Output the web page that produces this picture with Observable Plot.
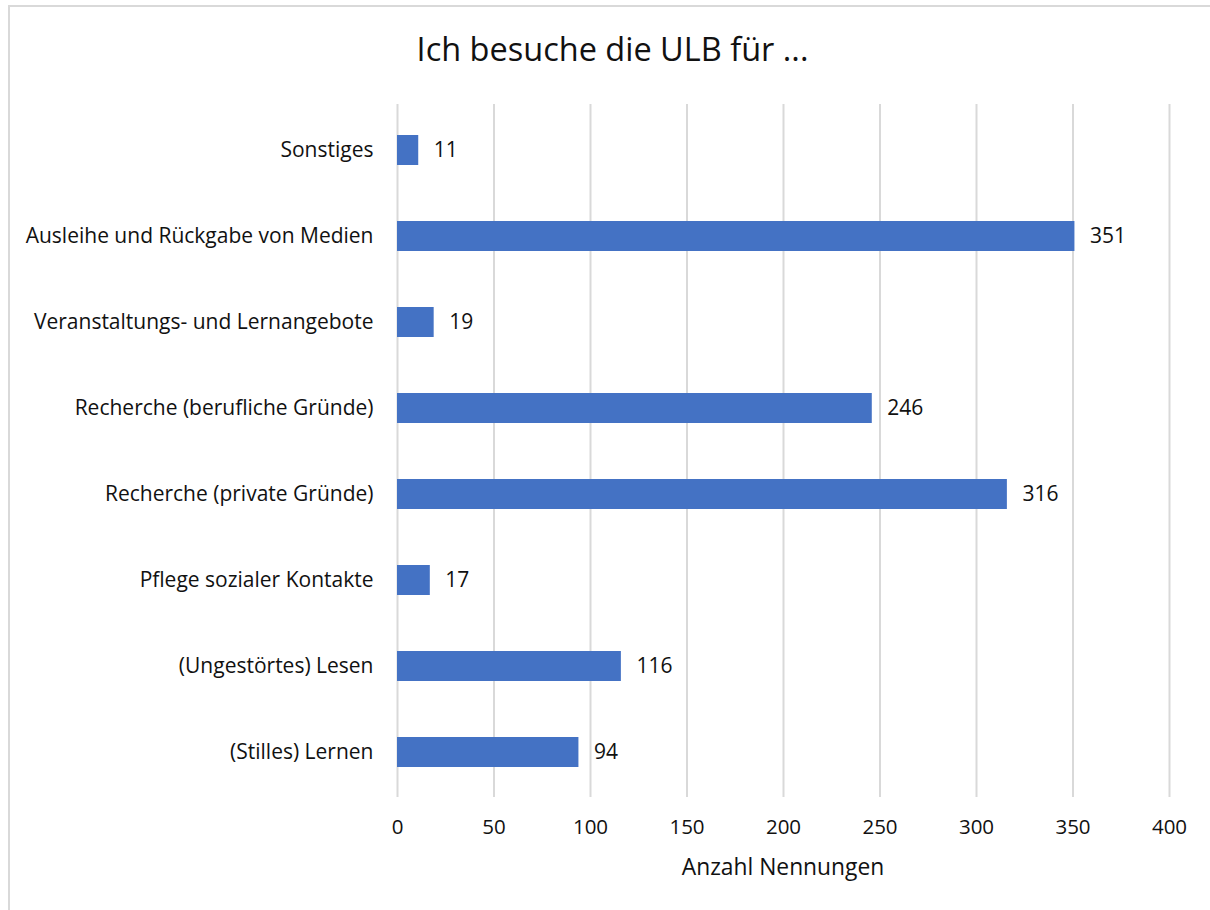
<!DOCTYPE html>
<html>
<head>
<meta charset="utf-8">
<script src="https://cdn.jsdelivr.net/npm/d3@7"></script>
<script src="https://cdn.jsdelivr.net/npm/@observablehq/plot@0.6"></script>
<style>
  html, body { margin: 0; padding: 0; background: #fff; }
  body { width: 1210px; height: 910px; position: relative; overflow: hidden; font-family: "Open Sans", Lato, sans-serif; }
  #frame { position: absolute; left: 8px; top: 5px; width: 1300px; height: 1000px; border-left: 2px solid #d9d9d9; border-top: 2px solid #d9d9d9; box-sizing: border-box; }
  #title { position: absolute; left: 0; width: 1225px; top: 28px; text-align: center; font-size: 32.5px; color: #111; line-height: 1.3; }
  #xlabel { position: absolute; left: 397px; width: 772px; top: 852px; text-align: center; font-size: 22.8px; color: #111; line-height: 1.3; }
  #chart { position: absolute; left: 0; top: 0; }
</style>
</head>
<body>
<div id="frame"></div>
<div id="chart"></div>
<div id="title">Ich besuche die ULB für ...</div>
<div id="xlabel">Anzahl Nennungen</div>
<script>
const categories = [
  "Sonstiges",
  "Ausleihe und Rückgabe von Medien",
  "Veranstaltungs- und Lernangebote",
  "Recherche (berufliche Gründe)",
  "Recherche (private Gründe)",
  "Pflege sozialer Kontakte",
  "(Ungestörtes) Lesen",
  "(Stilles) Lernen"
];
const values = [11, 351, 19, 246, 316, 17, 116, 94];
const xTicks = [0, 50, 100, 150, 200, 250, 300, 350, 400];

const data = categories.map((c, i) => ({category: c, value: values[i]}));

const chart = Plot.plot({
  width: 1210,
  height: 910,
  marginLeft: 397,
  marginRight: 41,
  marginTop: 104,
  marginBottom: 113,
  style: {fontFamily: "'Open Sans', Lato, sans-serif", fontSize: "20px", color: "#111", background: "transparent"},
  x: {domain: [0, 400], ticks: xTicks},
  y: {domain: categories, padding: 0},
  marks: [
    Plot.gridX(xTicks, {stroke: "#d9d9d9", strokeOpacity: 1, strokeWidth: 2}),
    Plot.barX(data, {x: "value", y: "category", fill: "#4472C4", insetTop: 28, insetBottom: 28}),
    Plot.text(data, {x: "value", y: "category", text: d => String(d.value), textAnchor: "start", dx: 15, fontSize: 21, fill: "#111"}),
    Plot.axisX({ticks: xTicks, tickSize: 0, tickPadding: 22, fontSize: 20.5, label: null}),
    Plot.axisY({tickSize: 0, tickPadding: 24, fontSize: 21, label: null})
  ]
});
document.getElementById("chart").appendChild(chart);
</script>
</body>
</html>
